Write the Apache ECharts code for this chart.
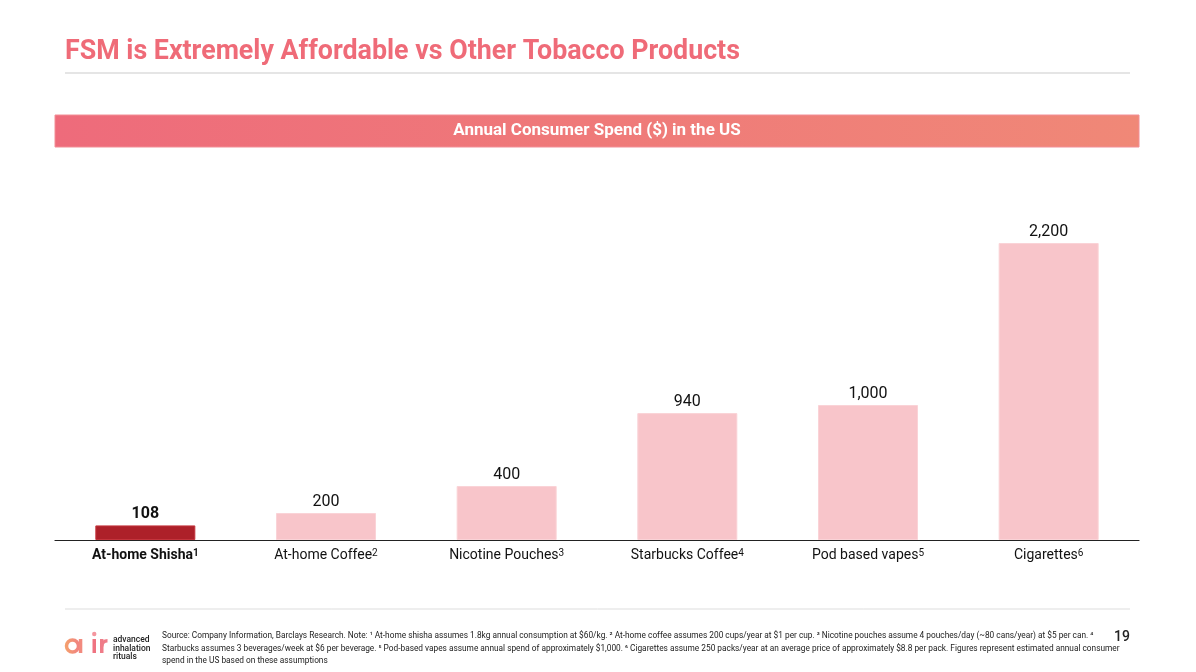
<!DOCTYPE html>
<html>
<head>
<meta charset="utf-8">
<title>FSM is Extremely Affordable vs Other Tobacco Products</title>
<script src="https://cdn.jsdelivr.net/npm/echarts@6/dist/echarts.min.js"></script>
<style>
  html, body { margin: 0; padding: 0; background: #fff; }
  #main { width: 1196px; height: 672px; }
</style>
</head>
<body>
<div id="main"></div>
<script>
// data
var categories = ['At-home Shisha', 'At-home Coffee', 'Nicotine Pouches', 'Starbucks Coffee', 'Pod based vapes', 'Cigarettes'];
var footnotes = ['1', '2', '3', '4', '5', '6'];
var spend = [108, 200, 400, 940, 1000, 2200];

var notes = [
  'Source: Company Information, Barclays Research. Note: \u00b9 At-home shisha assumes 1.8kg annual consumption at $60/kg. \u00b2 At-home coffee assumes 200 cups/year at $1 per cup. \u00b3 Nicotine pouches assume 4 pouches/day (~80 cans/year) at $5 per can. \u2074',
  'Starbucks assumes 3 beverages/week at $6 per beverage. \u2075 Pod-based vapes assume annual spend of approximately $1,000. \u2076 Cigarettes assume 250 packs/year at an average price of approximately $8.8 per pack. Figures represent estimated annual consumer',
  'spend in the US based on these assumptions'
];

var pink = '#EF6B78';
var font = 'Roboto, "Noto Sans", sans-serif';

var myChart = echarts.init(document.getElementById('main'));

var barData = spend.map(function (v, i) {
  if (i === 0) {
    return {
      value: v,
      itemStyle: { color: '#AD2029', borderColor: '#C4343C', borderWidth: 1 },
      label: { fontWeight: 'bold' }
    };
  }
  return v;
});

// logo "air" drawn from simple shapes
var logoOrange = new echarts.graphic.LinearGradient(0, 0, 1, 0, [
  { offset: 0, color: '#F5A36B' },
  { offset: 1, color: '#F07E84' }
]);
var logo = [
  { type: 'circle', shape: { cx: 72.5, cy: 646, r: 6 }, style: { fill: 'none', stroke: logoOrange, lineWidth: 3.5 } },
  { type: 'rect', shape: { x: 78.8, y: 639, width: 3.5, height: 14 }, style: { fill: '#F28A7E' } },
  { type: 'rect', shape: { x: 92.5, y: 639, width: 3.5, height: 14 }, style: { fill: '#EF7381' } },
  { type: 'circle', shape: { cx: 94.25, cy: 634, r: 2.2 }, style: { fill: '#F4969E' } },
  { type: 'rect', shape: { x: 100, y: 639, width: 3.5, height: 14 }, style: { fill: '#EF7C88' } },
  { type: 'arc', shape: { cx: 107.5, cy: 646.5, r: 5.75, startAngle: Math.PI, endAngle: Math.PI * 1.5 }, style: { stroke: '#EF7C88', lineWidth: 3.5, fill: 'none' } }
];

var option = {
  animation: false,
  textStyle: { fontFamily: font },
  grid: { left: 55, right: 57, top: 189, bottom: 132, containLabel: false },
  xAxis: {
    type: 'category',
    data: categories,
    axisLine: { lineStyle: { color: '#222', width: 1.2 } },
    axisTick: { show: false },
    axisLabel: {
      margin: 8,
      formatter: function (val, idx) {
        if (idx === 0) return '{b|' + val + '}{bs|' + footnotes[idx] + '}';
        return '{n|' + val + '}{s|' + footnotes[idx] + '}';
      },
      rich: {
        n: { fontSize: 14, color: '#111', fontFamily: font },
        s: { fontSize: 10, color: '#111', fontFamily: font, verticalAlign: 'top', padding: [0, 0, 4, 0] },
        b: { fontSize: 14, color: '#111', fontWeight: 'bold', fontFamily: font },
        bs: { fontSize: 10, color: '#111', fontWeight: 'bold', fontFamily: font, verticalAlign: 'top', padding: [0, 0, 4, 0] }
      }
    }
  },
  yAxis: {
    type: 'value',
    min: 0,
    max: 2600,
    show: false,
    splitLine: { show: false }
  },
  series: [{
    type: 'bar',
    data: barData,
    barWidth: 100,
    itemStyle: { color: '#F8C5CA', borderColor: '#FAD3D7', borderWidth: 1 },
    label: {
      show: true,
      position: 'top',
      distance: 3,
      fontSize: 16,
      color: '#111',
      fontFamily: font,
      formatter: function (p) { return p.value.toLocaleString('en-US'); }
    }
  }],
  graphic: [
    {
      type: 'text', left: 65, top: 39,
      style: { text: 'FSM is Extremely Affordable vs Other Tobacco Products', fill: pink, font: 'bold 26.8px ' + font }
    },
    {
      type: 'line', shape: { x1: 65, y1: 73, x2: 1130, y2: 73 },
      style: { stroke: '#DDDDDD', lineWidth: 1.5 }
    },
    {
      type: 'rect', shape: { x: 55, y: 115, width: 1084, height: 32 },
      style: {
        fill: new echarts.graphic.LinearGradient(0, 0, 1, 0, [
          { offset: 0, color: '#EE6B7B' },
          { offset: 1, color: '#F08877' }
        ]),
        stroke: '#F28E96', lineWidth: 1
      }
    },
    {
      type: 'text', x: 597, y: 131,
      style: {
        text: 'Annual Consumer Spend ($) in the US', fill: '#fff',
        font: 'bold 17px ' + font, align: 'center', verticalAlign: 'middle'
      }
    },
    {
      type: 'line', shape: { x1: 65, y1: 609, x2: 1130, y2: 609 },
      style: { stroke: '#DDDDDD', lineWidth: 1 }
    }
  ].concat(logo).concat([
    {
      type: 'text', x: 113, y: 636,
      style: { text: 'advanced\ninhalation\nrituals', font: '500 8.5px ' + font, fill: '#222', lineHeight: 8.5, verticalAlign: 'top' }
    },
    {
      type: 'text', x: 162, y: 630,
      style: { text: notes.join('\n'), font: '8.3px ' + font, fill: '#222', lineHeight: 12.5, verticalAlign: 'top' }
    },
    {
      type: 'text', x: 1122, y: 637,
      style: { text: '19', font: '500 14px ' + font, fill: '#222', align: 'center', verticalAlign: 'middle' }
    }
  ])
};

myChart.setOption(option);
</script>
</body>
</html>
